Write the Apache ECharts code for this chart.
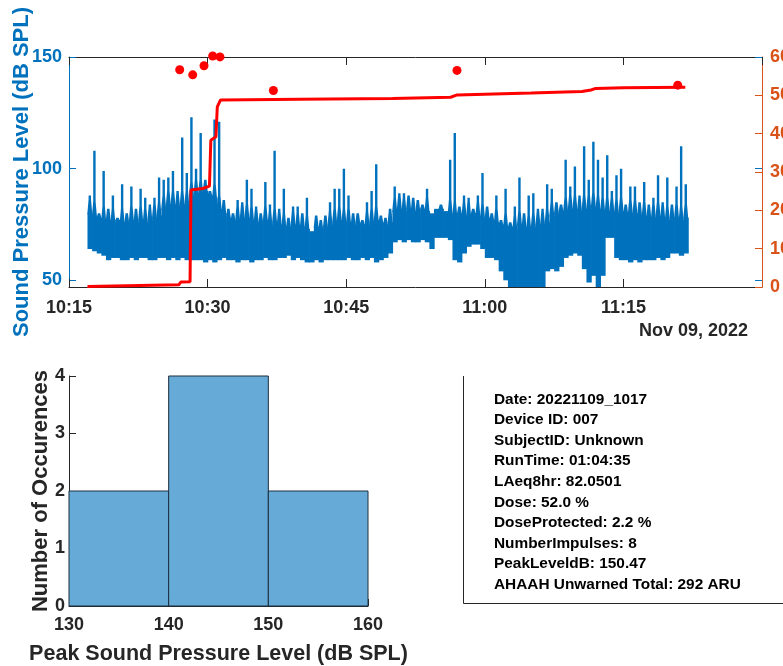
<!DOCTYPE html>
<html><head><meta charset="utf-8">
<script src="https://cdn.jsdelivr.net/npm/echarts@6/dist/echarts.min.js"></script>
<style>html,body{margin:0;padding:0;background:#fff}#c{width:783px;height:666px}</style>
</head><body><div id="c"></div>
<script>
// ---- sound level trace, 30 s buckets starting 10:17:00 (minutes since midnight)
const splStart = 617.0;
const splStep = 0.5;
// lower envelope of each bucket
const splLow = [
 64,63,62,61,59,60,60,59,59,60,
 59,60,60,59,59,60,60,59,60,59,
 60,59,59,59,59,58,59,58,59,60,
 59,59,58,59,59,58,59,59,60,59,
 59,60,60,61,59,60,59,58,58,59,
 58,59,59,59,59,59,60,59,59,60,
 59,60,58,59,60,62,67,68,67,68,
 67,67,68,67,64,69,69,69,68,59,
 58,62,65,66,66,64,60,60,59,54,
 50,46,45,45,46,45,45,46,47,54,
 55,54,56,60,61,62,61,55,49,52,
 47,52,69,69,60,59,59,58,59,58,
 59,59,59,60,59,60,62,62,61,62
];
// top of the dense (solid) part of each bucket
const splBody = [
 80,79,78,77,
 77,76,77,76,76,77,76,77,76,77,78,79,82,84,84,83,
 84,84,
 88,89,89,90,88,87,
 82,80,78,77,77,78,78,77,
 76,76,77,75,76,75,74,74,75,74,74,73,72,74,73,74,
 75,76,77,76,76,75,76,75,75,76,77,76,75,76,
 81,82,81,82,81,81,82,81,80,82,82,81,
 80,79,80,79,79,80,79,78,78,77,
 76,75,74,74,73,75,74,73,74,75,75,76,
 79,80,81,81,82,82,81,82,82,83,82,81,
 81,81,80,81,80,80,80,79,
 79,78,78,79,78,77,78,78,77,78
];
// highest spike in each bucket
const splHigh = [
 88,108,80,99,82,88,78,93,80,92,
 82,91,87,84,87,96,95,96,99,90,
 114,98,123,100,116,95,90,122,121,86,
 82,80,86,85,95,91,83,80,94,84,
 108,82,91,78,83,83,80,87,71,79,
 77,79,85,91,91,100,88,80,80,77,
 85,90,102,79,78,82,92,89,89,88,
 87,86,84,91,80,82,84,80,104,116,
 83,88,87,82,88,98,83,80,88,77,
 91,76,83,96,80,88,89,82,82,93,
 91,85,84,104,92,101,88,110,95,112,
 104,96,106,90,97,100,84,92,92,85,
 94,84,87,97,85,96,84,92,110,93
];
// ---- cumulative dose (%)
const doseTimes  = [617.0, 626.9, 627.1, 628.1, 628.2, 629.5, 629.7, 630.2, 630.35, 630.9, 631.05, 631.4, 640, 650, 656.3, 657.0, 665, 670.5, 671.5, 672.0, 675, 681.7];
const doseValues = [0.1, 0.6, 1.3, 1.4, 25.3, 25.7, 26.2, 26.3, 38.3, 39.2, 47.0, 48.8, 49.0, 49.2, 49.5, 50.1, 50.6, 51.0, 51.4, 51.8, 52.0, 52.1];
// ---- impulse peaks (dB SPL)
const peakTimes  = [626.98, 628.39, 629.61, 630.55, 631.34, 637.12, 656.99, 680.88];
const peakValues = [144.3, 142.0, 146.1, 150.47, 150.05, 135.0, 144.0, 137.4];
// ---- histogram
const binEdges = [130, 140, 150, 160];
const binCounts = [2, 4, 2];
// ---- axis ticks
const timeTicksMin = 615, timeTicksMax = 690, timeTickStep = 15;
const leftTicks = [50, 100, 150];
const dateLabel = 'Nov 09, 2022';
const infoLines = [
 'Date: 20221109_1017',
 'Device ID: 007',
 'SubjectID: Unknown',
 'RunTime: 01:04:35',
 'LAeq8hr: 82.0501',
 'Dose: 52.0 %',
 'DoseProtected: 2.2 %',
 'NumberImpulses: 8',
 'PeakLeveldB: 150.47',
 'AHAAH Unwarned Total: 292 ARU'
];

const FONT = "'Liberation Sans', Arial, Helvetica, sans-serif";
const BLUE = '#0072BD', ORANGE = '#D95319', DARK = '#262626';

const splData = splLow.map((v, i) => [splStart + i * splStep, v, splBody[i], splHigh[i]]);
const doseData = doseTimes.map((t, i) => [t, doseValues[i]]);
const peakData = peakTimes.map((t, i) => [t, peakValues[i]]);
const histData = binCounts.map((c, i) => [binEdges[i], binEdges[i + 1], c]);

function hhmm(v) {
  const h = Math.floor(v / 60), m = Math.round(v % 60);
  return h + ':' + (m < 10 ? '0' : '') + m;
}

const chart = echarts.init(document.getElementById('c'), null, {renderer: 'canvas'});
const option = {
  animation: false,
  backgroundColor: '#fff',
  textStyle: {fontFamily: FONT},
  grid: [
    {left: 69, top: 57, width: 693, height: 230, outerBoundsMode: 'none', containLabel: false},
    {left: 69, top: 376, width: 299, height: 230, outerBoundsMode: 'none', containLabel: false}
  ],
  xAxis: [
    {type: 'value', gridIndex: 0, min: timeTicksMin, max: timeTicksMax, interval: timeTickStep, position: 'bottom',
     axisLine: {lineStyle: {color: DARK, width: 1}},
     axisTick: {inside: true, length: 8, lineStyle: {color: DARK}},
     axisLabel: {formatter: hhmm, color: DARK, fontWeight: 'bold', fontSize: 18, fontFamily: FONT, margin: 12, showMaxLabel: false},
     splitLine: {show: false}},
    {type: 'value', gridIndex: 0, min: timeTicksMin, max: timeTicksMax, interval: timeTickStep, position: 'top',
     axisLine: {lineStyle: {color: DARK, width: 1}},
     axisTick: {inside: true, length: 8, lineStyle: {color: DARK}},
     axisLabel: {show: false}, splitLine: {show: false}},
    {type: 'value', gridIndex: 1, min: 130, max: 160, interval: 10,
     axisLine: {lineStyle: {color: DARK, width: 1}},
     axisTick: {inside: true, length: 7, lineStyle: {color: DARK}},
     axisLabel: {color: DARK, fontWeight: 'bold', fontSize: 18, fontFamily: FONT, margin: 10},
     splitLine: {show: false},
     name: 'Peak Sound Pressure Level (dB SPL)', nameLocation: 'middle', nameGap: 37, nameMoveOverlap: false,
     nameTextStyle: {color: DARK, fontWeight: 'bold', fontSize: 21.5, fontFamily: FONT}}
  ],
  yAxis: [
    {type: 'value', gridIndex: 0, position: 'left', min: 47, max: 150,
     axisLine: {show: true, lineStyle: {color: BLUE, width: 1}},
     axisTick: {show: true, inside: true, length: 7, customValues: leftTicks, lineStyle: {color: BLUE}},
     axisLabel: {customValues: leftTicks, color: BLUE, fontWeight: 'bold', fontSize: 18, fontFamily: FONT, margin: 7},
     splitLine: {show: false},
     name: 'Sound Pressure Level (dB SPL)', nameLocation: 'middle', nameGap: 36, nameRotate: 90, nameMoveOverlap: false,
     nameTextStyle: {color: BLUE, fontWeight: 'bold', fontSize: 22, fontFamily: FONT}},
    {type: 'value', gridIndex: 0, position: 'right', min: 0, max: 60, interval: 10,
     axisLine: {show: true, lineStyle: {color: ORANGE, width: 1}},
     axisTick: {show: true, inside: true, length: 7, lineStyle: {color: ORANGE}},
     axisLabel: {color: ORANGE, fontWeight: 'bold', fontSize: 18, fontFamily: FONT, margin: 8},
     splitLine: {show: false}},
    {type: 'value', gridIndex: 1, min: 0, max: 4, interval: 1,
     axisLine: {show: true, lineStyle: {color: DARK, width: 1}},
     axisTick: {show: true, inside: true, length: 7, lineStyle: {color: DARK}},
     axisLabel: {color: DARK, fontWeight: 'bold', fontSize: 18, fontFamily: FONT, margin: 4},
     splitLine: {show: false},
     name: 'Number of Occurences', nameLocation: 'middle', nameGap: 17, nameRotate: 90, nameMoveOverlap: false,
     nameTextStyle: {color: DARK, fontWeight: 'bold', fontSize: 22, fontFamily: FONT}},
    {type: 'value', gridIndex: 0, position: 'right', offset: 0, min: 47, max: 150,
     axisLine: {show: false},
     axisTick: {show: true, inside: true, length: 7, customValues: leftTicks, lineStyle: {color: BLUE}},
     axisLabel: {show: false}, splitLine: {show: false}}
  ],
  series: [
    {type: 'custom', xAxisIndex: 0, yAxisIndex: 0, data: splData, clip: true, z: 2,
     encode: {x: 0, y: [1, 2, 3]},
     renderItem: function (params, api) {
       const t = api.value(0);
       const w = api.size([splStep, 0])[0];
       const pL = api.coord([t, api.value(1)]);
       const pB = api.coord([t, api.value(2)]);
       const pH = api.coord([t + splStep / 2, api.value(3)]);
       const children = [
         {type: 'rect', shape: {x: pL[0], y: pB[1], width: w + 0.7, height: pL[1] - pB[1]},
          style: {fill: BLUE}}
       ];
       if (pH[1] < pB[1]) {
         const x = pH[0], by = pB[1], hy = pH[1];
         const ty = by - Math.min(14, by - hy);
         children.push({type: 'polygon', shape: {points: [
           [x - 2.5, by + 1], [x - 1.2, ty], [x - 1.2, hy], [x + 1.2, hy], [x + 1.2, ty], [x + 2.5, by + 1]
         ]}, style: {fill: BLUE}});
       }
       return {type: 'group', children: children};
     }},
    {type: 'line', xAxisIndex: 0, yAxisIndex: 1, data: doseData, showSymbol: false, symbol: 'none',
     lineStyle: {color: '#FF0000', width: 3}, itemStyle: {color: '#FF0000'}, z: 3},
    {type: 'scatter', xAxisIndex: 0, yAxisIndex: 0, data: peakData, symbol: 'circle', symbolSize: 9,
     itemStyle: {color: '#FF0000', opacity: 1}, clip: false, z: 4},
    {type: 'custom', xAxisIndex: 2, yAxisIndex: 2, data: histData, encode: {x: [0, 1], y: 2},
     renderItem: function (params, api) {
       const p0 = api.coord([api.value(0), api.value(2)]);
       const p1 = api.coord([api.value(1), 0]);
       return {type: 'rect', shape: {x: p0[0], y: p0[1], width: p1[0] - p0[0], height: p1[1] - p0[1]},
               style: {fill: '#66AAD7', stroke: '#1c2e3e', lineWidth: 1}};
     }, z: 2}
  ],
  graphic: [
    {type: 'text', right: 783 - 748, top: 322, style: {text: dateLabel, fill: DARK, font: 'bold 18px ' + FONT}},
    {type: 'polyline', shape: {points: [[463.5, 376], [463.5, 603.5], [783, 603.5]]}, style: {stroke: DARK, lineWidth: 1, fill: null}},
    {type: 'text', left: 494, top: 389, style: {text: infoLines.join('\n'), fill: '#000', font: 'bold 15.4px ' + FONT, lineHeight: 20.6}}
  ]
};
chart.setOption(option);
</script>
</body></html>
